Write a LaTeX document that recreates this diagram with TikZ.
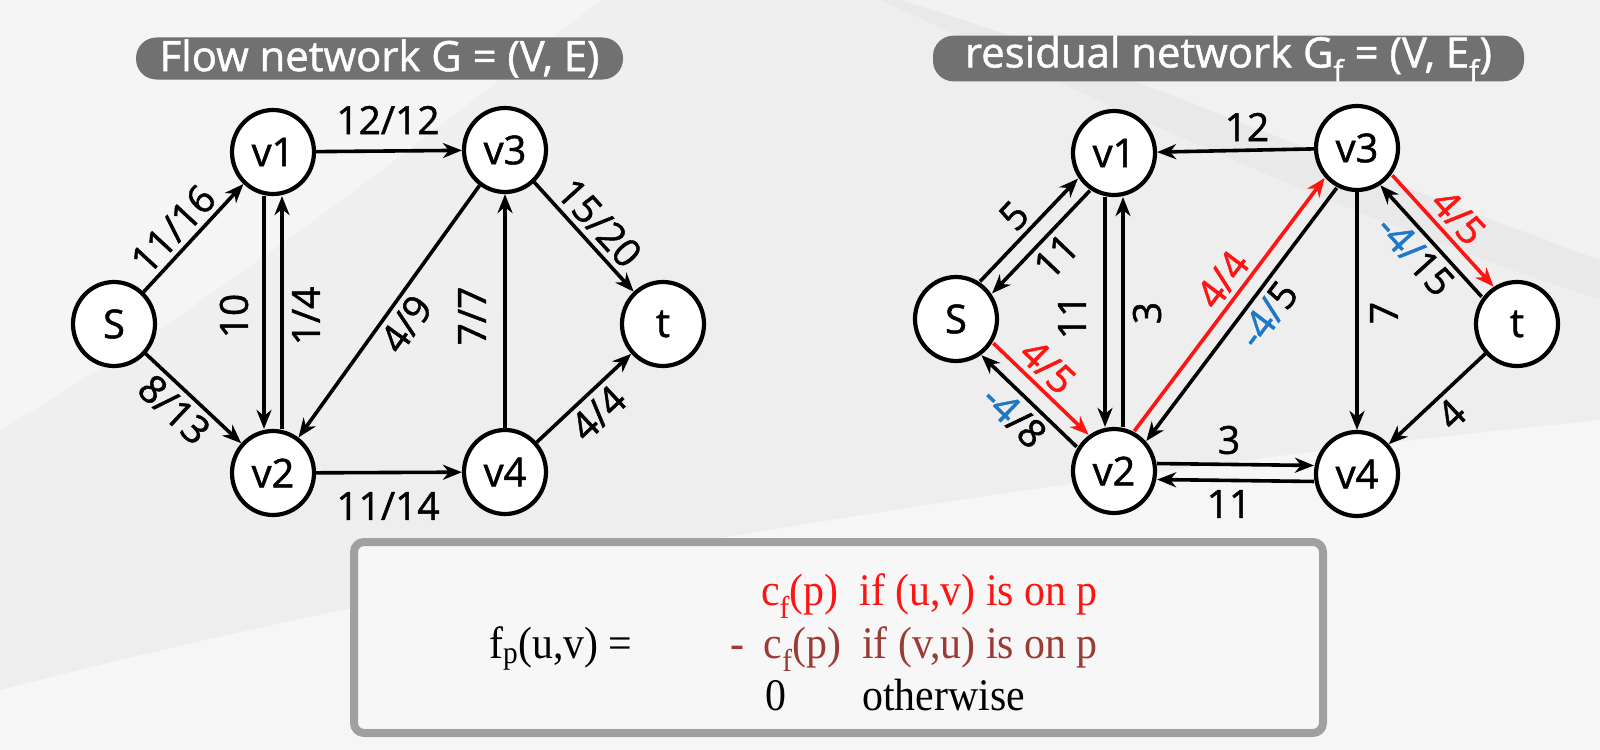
\documentclass[tikz,border=0pt]{standalone}
\usepackage{fontspec}
\setmainfont{Liberation Serif}
\newfontfamily\gfont{Open Sans}[FakeBold=1.2]
\usetikzlibrary{arrows.meta,shapes.geometric,calc}
\definecolor{bgc}{HTML}{E9E9E9}
\definecolor{pillc}{HTML}{717171}
\definecolor{fred}{HTML}{FF1414}
\definecolor{fblue}{HTML}{1E78C8}
\definecolor{fbrown}{HTML}{9A3B36}
\definecolor{boxfill}{HTML}{F7F7F7}
\definecolor{boxline}{HTML}{A0A0A0}
\begin{document}
\begin{tikzpicture}[x=1bp,y=-1bp,
  vtx/.style={ellipse, draw=black, line width=4.2bp, fill=white, minimum width=82bp, minimum height=84bp, inner sep=0pt, font=\gfont\fontsize{40}{40}\selectfont},
  arr/.style={draw=black, line width=3.6bp, -{Stealth[length=19bp,width=15bp,inset=6bp]}},
  redarr/.style={arr, draw=fred},
  lab/.style={font=\gfont\fontsize{39}{39}\selectfont, inner sep=5bp},
  pilltitle/.style={fill=pillc, text=white, rounded corners=20.5bp, minimum height=42bp, inner sep=0pt, font=\gfont\fontsize{42}{42}\selectfont},
  ftxt/.style={font=\fontsize{42}{42}\selectfont, inner sep=0pt}
]
\useasboundingbox (0,0) rectangle (1600,750);
% background
\fill[bgc] (0,0) rectangle (1600,750);
\fill[white, opacity=0.55] (0,0) -- (600,0) .. controls (450,120) and (220,300) .. (0,430) -- cycle;
\fill[white, opacity=0.3] (0,430) .. controls (220,300) and (450,120) .. (600,0) -- (880,0) .. controls (700,170) and (380,420) .. (0,640) -- cycle;
\fill[white, opacity=0.6] (0,750) -- (0,690) .. controls (500,560) and (1100,470) .. (1600,420) -- (1600,750) -- cycle;
\fill[white, opacity=0.4] (900,0) -- (1600,0) -- (1600,260) .. controls (1300,150) and (1100,60) .. (900,0) -- cycle;
\fill[white, opacity=0.25] (880,0) .. controls (1100,100) and (1300,200) .. (1600,300) -- (1600,420) .. controls (1100,470) and (500,560) .. (0,690) -- (0,640) .. controls (380,420) and (700,170) .. (880,0) -- cycle;

% titles
\node[pilltitle, minimum width=487bp] (t1) at (379.5,58.5) {Flow network G = (V, E)};
\node[pilltitle, minimum width=591bp] (t2) at (1228.5,58.5) {residual network G\textsubscript{f} = (V, E\textsubscript{f})};

% ---------- left graph ----------
\node[vtx] (S) at (114,324) {S};
\node[vtx] (v1) at (273,152) {v1};
\node[vtx] (v2) at (273,473) {v2};
\node[vtx] (v3) at (505,150) {v3};
\node[vtx] (v4) at (505,472) {v4};
\node[vtx] (t) at (663,324) {t};

\draw[arr] (S) -- node[lab, sloped, above, pos=0.45] {11/16} (v1);
\draw[arr] (S) -- node[lab, sloped, below, pos=0.45] {8/13} (v2);
\draw[arr, transform canvas={shift={(-9,0)}}] (v1) -- (v2);
\draw[arr, transform canvas={shift={(9,0)}}] (v2) -- (v1);
\node[lab, rotate=90] (l10) at (234,316) {10};
\node[lab, rotate=90] (l14) at (306,316) {1/4};
\draw[arr] (v1) -- (v3);
\node[lab] (l1212) at (388,120) {12/12};
\draw[arr] (v3) -- node[lab, sloped, below] {4/9} (v2);
\draw[arr] (v4) -- (v3);
\node[lab, rotate=90] (l77) at (472,316) {7/7};
\draw[arr] (v3) -- node[lab, sloped, above] {15/20} (t);
\draw[arr] (v2) -- (v4);
\node[lab] (l1114) at (388,506) {11/14};
\draw[arr] (v4) -- node[lab, sloped, below] {4/4} (t);

% ---------- right graph ----------
\node[vtx] (rS) at (956,319) {S};
\node[vtx] (rv1) at (1114,153) {v1};
\node[vtx] (rv2) at (1114,471) {v2};
\node[vtx] (rv3) at (1357,148) {v3};
\node[vtx] (rv4) at (1357,474) {v4};
\node[vtx] (rt) at (1517,324) {t};

\draw[arr, transform canvas={shift={(-6,-6)}}] (rS) -- node[lab, sloped, above, pos=0.5] {5} (rv1);
\draw[arr, transform canvas={shift={(6,6)}}] (rv1) -- node[lab, sloped, below] {11} (rS);
\draw[redarr, transform canvas={shift={(6,-6)}}] (rS) -- node[lab, sloped, above, pos=0.42, text=fred] {4/5} (rv2);
\draw[arr, transform canvas={shift={(-6,6)}}] (rv2) -- node[lab, sloped, below] {\color{fblue}-4\color{black}/8} (rS);
\draw[arr, transform canvas={shift={(-9,0)}}] (rv1) -- (rv2);
\draw[arr, transform canvas={shift={(9,0)}}] (rv2) -- (rv1);
\node[lab, rotate=90] (r11) at (1072,317) {11};
\node[lab, rotate=90] (r3) at (1147,313) {3};
\draw[arr] (rv3) -- (rv1);
\node[lab] (r12) at (1247,127) {12};
\draw[redarr, transform canvas={shift={(-6,-5)}}] (rv2) -- node[lab, sloped, above, pos=0.55, text=fred] {4/4} (rv3);
\draw[arr, transform canvas={shift={(6,5)}}] (rv3) -- node[lab, sloped, below, pos=0.45] {\color{fblue}-4/\color{black}5} (rv2);
\draw[arr] (rv3) -- (rv4);
\node[lab, rotate=90] (r7) at (1384,313) {7};
\draw[redarr, transform canvas={shift={(6,-5)}}] (rv3) -- node[lab, sloped, above, text=fred] {4/5} (rt);
\draw[arr, transform canvas={shift={(-6,5)}}] (rt) -- node[lab, sloped, below] {\color{fblue}-4/\color{black}15} (rv3);
\draw[arr] (rt) -- node[lab, sloped, below] {4} (rv4);
\draw[arr, transform canvas={shift={(0,-8)}}] (rv2) -- (rv4);
\draw[arr, transform canvas={shift={(0,8)}}] (rv4) -- (rv2);
\node[lab] (r3h) at (1229,440) {3};
\node[lab] (r11h) at (1229,504) {11};

% ---------- formula box ----------
\draw[boxline, line width=8bp, fill=boxfill, rounded corners=10bp] (354,542) rectangle (1323,733);
\node[ftxt, anchor=base west] (fp) at (489,658) {\scalebox{1}[1.08]{f\textsubscript{p}(u,v) =}};
\node[ftxt, anchor=base east, text=fred] (c1) at (1098,605) {\scalebox{1}[1.08]{c\textsubscript{f}(p)\ \ if (u,v) is on p}};
\node[ftxt, anchor=base east, text=fbrown] (c2) at (1098,658) {\scalebox{1}[1.08]{-\hspace{0.45em}c\textsubscript{f}(p)\ \ if (v,u) is on p}};
\node[ftxt, anchor=base] (c3) at (776,710) {\scalebox{1}[1.08]{0}};
\node[ftxt, anchor=base west] (c4) at (862,710) {\scalebox{1}[1.08]{otherwise}};
\end{tikzpicture}
\end{document}
